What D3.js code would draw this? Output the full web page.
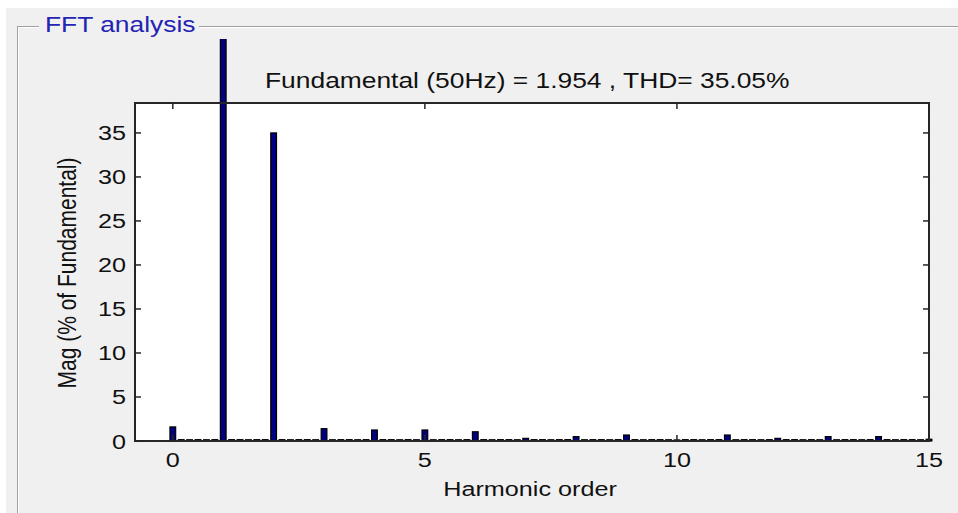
<!DOCTYPE html>
<html>
<head>
<meta charset="utf-8">
<script src="https://cdn.jsdelivr.net/npm/d3@7"></script>
<style>
  html, body { margin: 0; padding: 0; background: #ffffff; }
  svg { display: block; }
  text { font-family: "Liberation Sans", Arial, sans-serif; }
</style>
</head>
<body>
<svg id="chart" width="958" height="513"></svg>
<script>
// Spectrum magnitudes in % of fundamental. One row per harmonic h:
// value at h, then the five inter-harmonic bins h+1/6 ... h+5/6.
const binsPerHarmonic = 6;
const magnitudes = [
  [1.6, 0.15, 0.14, 0.15, 0.14, 0.15],   // 0 (DC)
  [100, 0.15, 0.15, 0.14, 0.15, 0.15],   // 1 (fundamental)
  [35.0, 0.15, 0.14, 0.15, 0.15, 0.14],  // 2
  [1.4, 0.14, 0.15, 0.15, 0.14, 0.15],   // 3
  [1.25, 0.15, 0.15, 0.14, 0.15, 0.14],  // 4
  [1.25, 0.14, 0.15, 0.15, 0.14, 0.15],  // 5
  [1.05, 0.15, 0.14, 0.15, 0.15, 0.14],  // 6
  [0.30, 0.15, 0.15, 0.14, 0.15, 0.15],  // 7
  [0.50, 0.14, 0.15, 0.15, 0.14, 0.15],  // 8
  [0.68, 0.15, 0.14, 0.15, 0.15, 0.14],  // 9
  [0.12, 0.15, 0.15, 0.14, 0.15, 0.15],  // 10
  [0.68, 0.14, 0.15, 0.15, 0.14, 0.15],  // 11
  [0.30, 0.15, 0.15, 0.14, 0.15, 0.14],  // 12
  [0.50, 0.14, 0.15, 0.15, 0.14, 0.15],  // 13
  [0.50, 0.15, 0.14, 0.15, 0.15, 0.14],  // 14
  [0.20]                                 // 15
];
const xTicks = [0, 5, 10, 15];
const yTicks = [0, 5, 10, 15, 20, 25, 30, 35];
const xDomain = [-0.75, 15];
const yDomain = [0, 38.4];

const panelTitle = "FFT analysis";
const infoText = "Fundamental (50Hz) = 1.954 , THD= 35.05%";
const xLabel = "Harmonic order";
const yLabel = "Mag (% of Fundamental)";

// flatten rows into (order, value) points
const spectrum = [];
magnitudes.forEach((row, h) => {
  row.forEach((v, k) => spectrum.push({ order: h + k / binsPerHarmonic, value: v }));
});

const svg = d3.select("#chart");
const W = 958, H = 513;
const plot = { left: 135, right: 929, top: 103, bottom: 441 };
const sx = 1.2; // horizontal text stretch

const x = d3.scaleLinear().domain(xDomain).range([plot.left, plot.right]);
const y = d3.scaleLinear().domain(yDomain).range([plot.bottom, plot.top]);

// window background and uipanel
svg.append("rect").attr("width", W).attr("height", H).attr("fill", "#ffffff");
svg.append("rect").attr("x", 6).attr("y", 8).attr("width", W - 6).attr("height", H - 8).attr("fill", "#f0f0f0");

const frame = svg.append("g");
const frameLines = [
  [17, 26, 39, 26], [199, 26, W, 26], [17, 26, 17, H]
];
frame.selectAll("line.dark").data(frameLines).join("line")
  .attr("x1", d => d[0]).attr("y1", d => d[1]).attr("x2", d => d[2]).attr("y2", d => d[3])
  .attr("stroke", "#a0a0a0").attr("stroke-width", 1).attr("shape-rendering", "crispEdges");
frame.selectAll("line.light").data(frameLines).join("line")
  .attr("x1", d => d[0] + 1).attr("y1", d => d[1] + 1)
  .attr("x2", d => d[2] === d[0] ? d[2] + 1 : d[2]).attr("y2", d => d[3] === d[1] ? d[3] + 1 : d[3])
  .attr("stroke", "#ffffff").attr("stroke-width", 1).attr("shape-rendering", "crispEdges");

function stretchedText(g, str, px, py, anchor, size, color) {
  return g.append("text")
    .attr("transform", `translate(${px},${py}) scale(${sx},1)`)
    .attr("text-anchor", anchor)
    .attr("font-size", size)
    .attr("fill", color)
    .text(str);
}

stretchedText(svg, panelTitle, 45, 32, "start", 22, "#2424b4");

// axes area
svg.append("rect")
  .attr("x", plot.left).attr("y", plot.top)
  .attr("width", plot.right - plot.left).attr("height", plot.bottom - plot.top)
  .attr("fill", "#ffffff");

stretchedText(svg, infoText, 265, 88, "start", 22, "#111111");

// bars (panel interior clips the fundamental)
svg.append("clipPath").attr("id", "panelClip")
  .append("rect").attr("x", 18).attr("y", 39).attr("width", W - 18).attr("height", H - 39);

const barW = x(0.68 / binsPerHarmonic) - x(0);
svg.append("g").attr("clip-path", "url(#panelClip)")
  .selectAll("rect").data(spectrum).join("rect")
  .attr("x", d => x(d.order) - barW / 2)
  .attr("y", d => y(d.value))
  .attr("width", barW)
  .attr("height", d => y(0) - y(d.value))
  .attr("fill", "#000080")
  .attr("stroke", "#000000")
  .attr("stroke-width", 1.2);

// box with inward ticks on all sides
const tickLen = 6;
const axisColor = "#262626";
const axes = svg.append("g").attr("stroke", axisColor).attr("stroke-width", 1.5);
axes.append("rect")
  .attr("x", plot.left).attr("y", plot.top)
  .attr("width", plot.right - plot.left).attr("height", plot.bottom - plot.top)
  .attr("fill", "none").attr("stroke-width", 2);

axes.selectAll("line.yl").data(yTicks).join("line")
  .attr("x1", plot.left).attr("x2", plot.left + tickLen)
  .attr("y1", d => y(d)).attr("y2", d => y(d));
axes.selectAll("line.yr").data(yTicks).join("line")
  .attr("x1", plot.right).attr("x2", plot.right - tickLen)
  .attr("y1", d => y(d)).attr("y2", d => y(d));
axes.selectAll("line.xb").data(xTicks).join("line")
  .attr("x1", d => x(d)).attr("x2", d => x(d))
  .attr("y1", plot.bottom).attr("y2", plot.bottom - tickLen);
axes.selectAll("line.xt").data(xTicks).join("line")
  .attr("x1", d => x(d)).attr("x2", d => x(d))
  .attr("y1", plot.top).attr("y2", plot.top + tickLen);

// tick labels
const labels = svg.append("g");
yTicks.forEach(t => stretchedText(labels, String(t), plot.left - 9, y(t) + 7.5, "end", 21, "#111111"));
xTicks.forEach(t => stretchedText(labels, String(t), x(t), 467, "middle", 21, "#111111"));

// axis titles
stretchedText(svg, xLabel, 530, 496, "middle", 21, "#111111");
svg.append("text")
  .attr("transform", `translate(76,273) rotate(-90) scale(1,${sx})`)
  .attr("text-anchor", "middle")
  .attr("font-size", 21)
  .attr("fill", "#111111")
  .text(yLabel);
</script>
</body>
</html>
